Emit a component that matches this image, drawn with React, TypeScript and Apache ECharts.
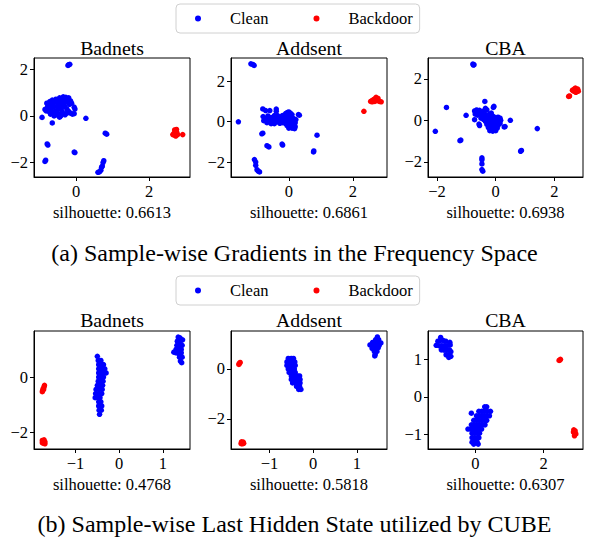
import React, { useEffect, useRef } from "react";
import * as echarts from "echarts";

const FONT = '"Liberation Serif", "Times New Roman", Times, serif';

// ---------- texts ----------
const subplotTitles = ["Badnets", "Addsent", "CBA", "Badnets", "Addsent", "CBA"];
const silhouetteScores = ["0.6613", "0.6861", "0.6938", "0.4768", "0.5818", "0.6307"];
const captionTexts = [
  "(a) Sample-wise Gradients in the Frequency Space",
  "(b) Sample-wise Last Hidden State utilized by CUBE",
];
const legendNames = ["Clean", "Backdoor"];

// ---------- ticks & ranges ----------
const xTickValues = [[0, 2], [0, 2], [-2, 0, 2], [-1, 0, 1], [-1, 0, 1], [0, 2]];
const yTickValues = [[-2, 0, 2], [-2, 0, 2], [-2, 0, 2], [-2, 0], [-2, 0], [-1, 0, 1]];
const xRanges = [[-1.15, 3.12], [-1.8, 3.06], [-2.31, 2.98], [-1.95, 1.62], [-1.88, 1.69], [-1.39, 3.15]];
const yRanges = [[-2.62, 2.49], [-2.74, 3.15], [-2.73, 3.0], [-2.61, 1.67], [-3.21, 1.52], [-1.38, 1.75]];

// ---------- data: (a) gradients in frequency space ----------
const gradBadnetsClean = [
  [-0.17, 2.22], [-0.22, 2.17], [-0.2, 2.2],
  [-0.93, -0.06], [-0.65, -0.3], [0.27, -0.1], [0.8, -0.74], [0.84, -0.78],
  [-0.79, -1.2], [-0.77, -1.25], [-0.05, -1.55], [-0.03, -1.57], [-0.83, -1.9], [-0.85, -1.95],
  [0.76, -1.92], [0.74, -2.0], [0.72, -2.15], [0.7, -2.2], [0.68, -2.33], [0.64, -2.4], [0.6, -2.42],
  [-0.8, 0.55], [-0.78, 0.4], [-0.72, 0.62], [-0.7, 0.48], [-0.68, 0.3], [-0.65, 0.68], [-0.62, 0.55],
  [-0.6, 0.4], [-0.58, 0.2], [-0.55, 0.72], [-0.52, 0.6], [-0.5, 0.45], [-0.5, 0.28], [-0.48, 0.1],
  [-0.45, 0.78], [-0.42, 0.65], [-0.4, 0.5], [-0.4, 0.35], [-0.38, 0.2], [-0.35, 0.82], [-0.33, 0.7],
  [-0.3, 0.58], [-0.28, 0.8], [-0.25, 0.7], [-0.22, 0.6], [-0.2, 0.78], [-0.18, 0.5], [-0.15, 0.65],
  [-0.12, 0.55], [-0.3, 0.4], [-0.25, 0.3], [-0.2, 0.2], [-0.15, 0.12], [-0.1, 0.08], [-0.05, 0.1],
  [-0.03, 0.3], [-0.05, 0.38], [-0.35, 0.1], [-0.45, -0.05], [-0.55, 0.05], [-0.65, 0.15], [-0.75, 0.2],
  [-0.85, 0.28], [-0.82, 0.22], [-0.6, 0.0], [-0.42, 0.0], [-0.3, 0.05], [-0.25, 0.12], [-0.7, 0.08],
];
const gradBadnetsBackdoor = [
  [2.7, -0.6], [2.75, -0.58], [2.72, -0.7], [2.68, -0.75], [2.76, -0.72], [2.7, -0.82],
  [2.65, -0.8], [2.78, -0.8], [2.73, -0.86], [2.92, -0.8],
];
const gradAddsentClean = [
  [-1.18, 2.86], [-1.12, 2.83], [-1.08, 2.78], [-1.57, -0.01], [-0.81, 0.63], [-0.72, 0.55],
  [-0.59, 0.55], [-0.39, 0.62], [-0.39, 0.52], [0.33, 0.32], [0.3, 0.35], [-0.81, -0.57], [-0.84, -0.6],
  [-0.68, -1.19], [-0.62, -1.25], [-0.21, -1.11], [-0.19, -1.16], [0.88, -0.67], [0.77, -1.5], [0.78, -1.45],
  [-1.07, -1.88], [-1.03, -2.0], [-1.03, -2.16], [-0.99, -2.38], [-0.91, -2.49], [-0.95, -2.45],
  [-0.8, 0.25], [-0.78, 0.05], [-0.72, 0.15], [-0.68, -0.05], [-0.65, 0.28], [-0.6, 0.1], [-0.55, -0.1],
  [-0.55, 0.2], [-0.5, 0.05], [-0.45, 0.3], [-0.45, -0.1], [-0.4, 0.15], [-0.35, 0.0], [-0.35, 0.3],
  [-0.3, 0.2], [-0.28, -0.08], [-0.25, 0.1], [-0.2, 0.3], [-0.2, -0.05], [-0.15, 0.15],
  [-0.1, 0.4], [-0.05, 0.45], [0.0, 0.48], [0.05, 0.42], [0.1, 0.35], [-0.1, 0.25], [-0.05, 0.2],
  [0.0, 0.3], [0.05, 0.25], [0.1, 0.2], [0.15, 0.15], [-0.1, 0.1], [-0.05, 0.0], [0.0, 0.1], [0.05, 0.05],
  [0.1, 0.0], [0.15, 0.05], [0.2, -0.05], [-0.1, -0.1], [-0.05, -0.2], [0.0, -0.15], [0.05, -0.25],
  [0.1, -0.2], [0.15, -0.15], [0.2, -0.25], [0.0, -0.32], [0.1, -0.32], [0.18, -0.35], [-0.12, 0.0], [0.22, 0.1],
];
const gradAddsentBackdoor = [
  [2.55, 1.0], [2.6, 1.05], [2.65, 1.1], [2.7, 1.15], [2.72, 1.2], [2.78, 1.15], [2.75, 1.05],
  [2.82, 1.0], [2.88, 0.98], [2.68, 1.0], [2.6, 0.98], [2.34, 0.51],
];
const gradCBAClean = [
  [-0.78, 2.71], [-0.74, 2.68], [-0.76, 2.66], [-1.68, 0.62], [-2.06, -0.53], [-1.19, -0.95], [-1.22, -0.98],
  [-1.01, 0.24], [-0.37, 0.91], [-0.06, 0.67], [-0.08, 0.62], [0.5, 0.0], [0.29, -0.32], [0.32, -0.3],
  [1.42, -0.4], [0.85, -1.49], [0.88, -1.45], [-0.47, -1.81], [-0.47, -1.9], [-0.47, -2.1], [-0.47, -2.37],
  [-0.44, -2.45], [-0.72, 0.03], [-0.57, -0.18], [-0.55, -0.25],
  [-0.72, 0.45], [-0.65, 0.5], [-0.6, 0.4], [-0.55, 0.48], [-0.7, 0.3], [-0.62, 0.25], [-0.5, 0.35],
  [-0.45, 0.2], [-0.4, 0.45], [-0.35, 0.58], [-0.3, 0.5], [-0.38, 0.3], [-0.3, 0.25], [-0.5, 0.1],
  [-0.42, 0.05], [-0.35, 0.12], [-0.25, 0.15], [-0.2, 0.3], [-0.15, 0.35], [-0.1, 0.2], [-0.05, 0.15],
  [0.0, 0.1], [0.08, 0.15], [0.15, 0.1], [0.17, 0.0], [-0.35, -0.05], [-0.28, -0.05], [-0.2, 0.0],
  [-0.1, -0.05], [0.0, -0.05], [0.1, -0.05], [0.15, -0.15], [-0.3, -0.2], [-0.2, -0.18], [-0.1, -0.2],
  [0.0, -0.2], [0.08, -0.25], [-0.25, -0.35], [-0.15, -0.35], [-0.05, -0.4], [0.05, -0.38], [-0.2, -0.5],
  [-0.1, -0.52], [0.0, -0.5], [-0.3, 0.0], [-0.12, 0.05],
];
const gradCBABackdoor = [
  [2.62, 1.45], [2.68, 1.5], [2.72, 1.55], [2.75, 1.45], [2.8, 1.5], [2.78, 1.4], [2.7, 1.38],
  [2.65, 1.42], [2.82, 1.4], [2.74, 1.35], [2.49, 1.15], [2.52, 1.17],
];

// ---------- data: (b) last hidden state ----------
const hiddenBadnetsClean = [
  [-0.5, 0.75], [-0.48, 0.6], [-0.42, 0.6], [-0.47, 0.45], [-0.4, 0.45], [-0.36, 0.45],
  [-0.47, 0.3], [-0.4, 0.3], [-0.33, 0.3], [-0.47, 0.15], [-0.4, 0.15], [-0.33, 0.15], [-0.3, 0.15],
  [-0.47, 0.0], [-0.4, 0.0], [-0.36, 0.0], [-0.48, -0.15], [-0.42, -0.15], [-0.37, -0.15],
  [-0.5, -0.3], [-0.44, -0.3], [-0.38, -0.3], [-0.53, -0.45], [-0.46, -0.45], [-0.39, -0.45],
  [-0.54, -0.6], [-0.47, -0.6], [-0.4, -0.6], [-0.55, -0.75], [-0.48, -0.75], [-0.44, -0.75],
  [-0.47, -0.9], [-0.42, -0.9], [-0.47, -1.05], [-0.4, -1.05], [-0.46, -1.2], [-0.41, -1.2], [-0.45, -1.35],
  [1.35, 1.45], [1.33, 1.3], [1.4, 1.3], [1.45, 1.35], [1.32, 1.15], [1.38, 1.15], [1.44, 1.15],
  [1.3, 1.0], [1.36, 1.0], [1.42, 1.0], [1.25, 0.9], [1.3, 0.88], [1.36, 0.85], [1.42, 0.88],
  [1.38, 0.72], [1.44, 0.72], [1.4, 0.58], [1.43, 0.52], [1.39, 1.42],
];
const hiddenBadnetsBackdoor = [
  [-1.71, -0.3], [-1.72, -0.36], [-1.74, -0.42], [-1.75, -0.48], [-1.76, -0.53], [-1.73, -0.45],
  [-1.76, -2.3], [-1.72, -2.28], [-1.7, -2.35], [-1.74, -2.4], [-1.7, -2.42], [-1.76, -2.38], [-1.73, -2.33],
];
const hiddenAddsentClean = [
  [-0.57, 0.42], [-0.5, 0.42], [-0.45, 0.42], [-0.6, 0.28], [-0.53, 0.28], [-0.46, 0.28], [-0.42, 0.28],
  [-0.6, 0.14], [-0.53, 0.14], [-0.46, 0.14], [-0.41, 0.14], [-0.57, 0.0], [-0.5, 0.0], [-0.43, 0.0],
  [-0.55, -0.14], [-0.48, -0.14], [-0.41, -0.14], [-0.5, -0.28], [-0.43, -0.28], [-0.36, -0.28], [-0.31, -0.28],
  [-0.5, -0.42], [-0.43, -0.42], [-0.36, -0.42], [-0.3, -0.42], [-0.47, -0.56], [-0.4, -0.56], [-0.33, -0.56],
  [-0.3, -0.56], [-0.38, -0.7], [-0.31, -0.7], [-0.33, -0.82], [-0.28, -0.82],
  [1.47, 1.28], [1.43, 1.17], [1.5, 1.17], [1.36, 1.06], [1.43, 1.06], [1.5, 1.06], [1.55, 1.04],
  [1.3, 0.96], [1.37, 0.94], [1.44, 0.94], [1.51, 0.94], [1.35, 0.82], [1.42, 0.82], [1.49, 0.85],
  [1.4, 0.7], [1.46, 0.7], [1.42, 0.58], [1.41, 0.52],
];
const hiddenAddsentBackdoor = [
  [-1.69, 0.22], [-1.67, 0.26], [-1.7, 0.18],
  [-1.64, -2.92], [-1.6, -2.93], [-1.62, -3.0], [-1.59, -2.98], [-1.65, -2.99],
];
const hiddenCBAClean = [
  [-1.02, 1.58], [-1.1, 1.48], [-1.03, 1.5], [-0.95, 1.5], [-0.87, 1.48], [-0.75, 1.45], [-1.15, 1.37],
  [-1.07, 1.36], [-0.99, 1.36], [-0.91, 1.36], [-0.83, 1.36], [-0.74, 1.38], [-1.0, 1.25], [-0.92, 1.24],
  [-0.84, 1.24], [-0.76, 1.25], [-0.72, 1.2], [-0.86, 1.12], [-0.78, 1.12], [-0.72, 1.08], [-0.78, 1.05],
  [0.27, -0.26], [0.33, -0.26], [0.1, -0.38], [0.18, -0.38], [0.26, -0.38], [0.34, -0.38], [0.44, -0.38],
  [0.03, -0.5], [0.11, -0.5], [0.19, -0.5], [0.27, -0.5], [0.35, -0.5], [0.41, -0.5],
  [-0.05, -0.62], [0.03, -0.62], [0.11, -0.62], [0.19, -0.62], [0.27, -0.62], [0.33, -0.62],
  [-0.12, -0.74], [-0.04, -0.74], [0.04, -0.74], [0.12, -0.74], [0.2, -0.74], [0.28, -0.74],
  [-0.22, -0.85], [-0.14, -0.85], [-0.06, -0.85], [0.02, -0.85], [0.1, -0.85], [0.18, -0.85],
  [-0.1, -0.96], [-0.02, -0.96], [0.06, -0.96], [0.12, -0.96], [-0.1, -1.08], [-0.02, -1.08], [0.06, -1.08],
  [0.1, -1.08], [-0.1, -1.2], [-0.02, -1.2], [0.05, -1.2], [-0.05, -1.25], [0.08, -1.25], [-0.12, -0.43],
];
const hiddenCBABackdoor = [
  [2.47, 0.98], [2.45, 0.97], [2.49, 1.0],
  [2.88, -0.87], [2.92, -0.9], [2.9, -0.96], [2.94, -0.98], [2.9, -1.03], [2.87, -0.93],
];

const cleanSets = [gradBadnetsClean, gradAddsentClean, gradCBAClean, hiddenBadnetsClean, hiddenAddsentClean, hiddenCBAClean];
const backdoorSets = [gradBadnetsBackdoor, gradAddsentBackdoor, gradCBABackdoor, hiddenBadnetsBackdoor, hiddenAddsentBackdoor, hiddenCBABackdoor];

// ---------- layout ----------
const W = 589;
const H = 537;
const gridLefts = [34, 231, 428];
const gridWidths = [156, 156, 155];
const rowTops = [58, 331];
const rowHeights = [119, 118];
const titleYs = [48.3, 320.3];
const silhouetteYs = [212.4, 484.4];
const captionYs = [252.5, 523.5];
const legendTops = [4, 276];

const CLEAN_COLOR = "#0000ff";
const BACKDOOR_COLOR = "#ff0000";

// legend marker: a 6px dot at the left of a 30px-wide handle (matplotlib style)
const LEGEND_ICON = "path://M0 3A3 3 0 1 0 6 3A3 3 0 1 0 0 3ZM30 3L30 3Z";

const fmt = (v: number) => String(v).replace("-", "\u2212");

export default function App() {
  const ref = useRef<HTMLDivElement>(null);

  useEffect(() => {
    document.body.style.margin = "0";
    if (!ref.current) return;
    const chart = echarts.init(ref.current, undefined, { renderer: "svg" });

    const grids: any[] = [];
    const xAxes: any[] = [];
    const yAxes: any[] = [];
    const series: any[] = [];
    const graphics: any[] = [];

    for (let i = 0; i < 6; i++) {
      const row = Math.floor(i / 3);
      const col = i % 3;
      grids.push({
        left: gridLefts[col],
        top: rowTops[row],
        width: gridWidths[col],
        height: rowHeights[row],
        show: true,
        borderColor: "#000",
        borderWidth: 1,
        backgroundColor: "#fff",
        outerBoundsMode: "none",
      });
      xAxes.push({
        type: "value",
        gridIndex: i,
        min: xRanges[i][0],
        max: xRanges[i][1],
        splitLine: { show: false },
        axisLine: { show: true, onZero: false, lineStyle: { color: "#000", width: 1 } },
        axisTick: { show: true, length: 4, lineStyle: { color: "#000" }, customValues: xTickValues[i] },
        axisLabel: {
          customValues: xTickValues[i],
          formatter: fmt,
          color: "#000",
          fontFamily: FONT,
          fontSize: 16.5,
          margin: 6,
        },
      });
      yAxes.push({
        type: "value",
        gridIndex: i,
        min: yRanges[i][0],
        max: yRanges[i][1],
        splitLine: { show: false },
        axisLine: { show: true, onZero: false, lineStyle: { color: "#000", width: 1 } },
        axisTick: { show: true, length: 4, lineStyle: { color: "#000" }, customValues: yTickValues[i] },
        axisLabel: {
          customValues: yTickValues[i],
          formatter: fmt,
          color: "#000",
          fontFamily: FONT,
          fontSize: 16.5,
          margin: 6,
        },
      });
      series.push({
        type: "scatter",
        name: legendNames[0],
        xAxisIndex: i,
        yAxisIndex: i,
        data: cleanSets[i],
        symbolSize: 5.5,
        itemStyle: { color: CLEAN_COLOR, opacity: 1 },
        emphasis: { disabled: true },
      });
      series.push({
        type: "scatter",
        name: legendNames[1],
        xAxisIndex: i,
        yAxisIndex: i,
        data: backdoorSets[i],
        symbolSize: 5.5,
        itemStyle: { color: BACKDOOR_COLOR, opacity: 1 },
        emphasis: { disabled: true },
        z: 3,
      });

      const cx = gridLefts[col] + gridWidths[col] / 2;
      graphics.push({
        type: "text",
        x: cx,
        y: titleYs[row],
        style: {
          text: subplotTitles[i],
          fontFamily: FONT,
          fontSize: 19.8,
          fill: "#000",
          textAlign: "center",
          textVerticalAlign: "middle",
        },
      });
      graphics.push({
        type: "text",
        x: cx,
        y: silhouetteYs[row],
        style: {
          text: "silhouette: " + silhouetteScores[i],
          fontFamily: FONT,
          fontSize: 16.5,
          fill: "#000",
          textAlign: "center",
          textVerticalAlign: "middle",
        },
      });
    }

    for (let r = 0; r < 2; r++) {
      graphics.push({
        type: "text",
        x: W / 2,
        y: captionYs[r],
        style: {
          text: captionTexts[r],
          fontFamily: FONT,
          fontSize: 24,
          fill: "#000",
          textAlign: "center",
          textVerticalAlign: "middle",
        },
      });
    }

    const legends = legendTops.map((t) => ({
      left: 176,
      top: t,
      orient: "horizontal",
      data: legendNames.map((n) => ({ name: n, icon: LEGEND_ICON })),
      itemWidth: 30,
      itemHeight: 6,
      itemGap: 45,
      padding: [6, 7, 6, 19],
      borderColor: "#d0d0d0",
      borderWidth: 1,
      borderRadius: 4,
      backgroundColor: "#fff",
      selectedMode: false,
      itemStyle: { borderWidth: 0 },
      textStyle: {
        fontFamily: FONT,
        fontSize: 16.5,
        color: "#000",
      },
    }));

    chart.setOption({
      animation: false,
      backgroundColor: "#fff",
      grid: grids,
      xAxis: xAxes,
      yAxis: yAxes,
      series,
      legend: legends,
      graphic: graphics,
    });

    return () => {
      chart.dispose();
    };
  }, []);

  return <div ref={ref} style={{ width: W, height: H }} />;
}
